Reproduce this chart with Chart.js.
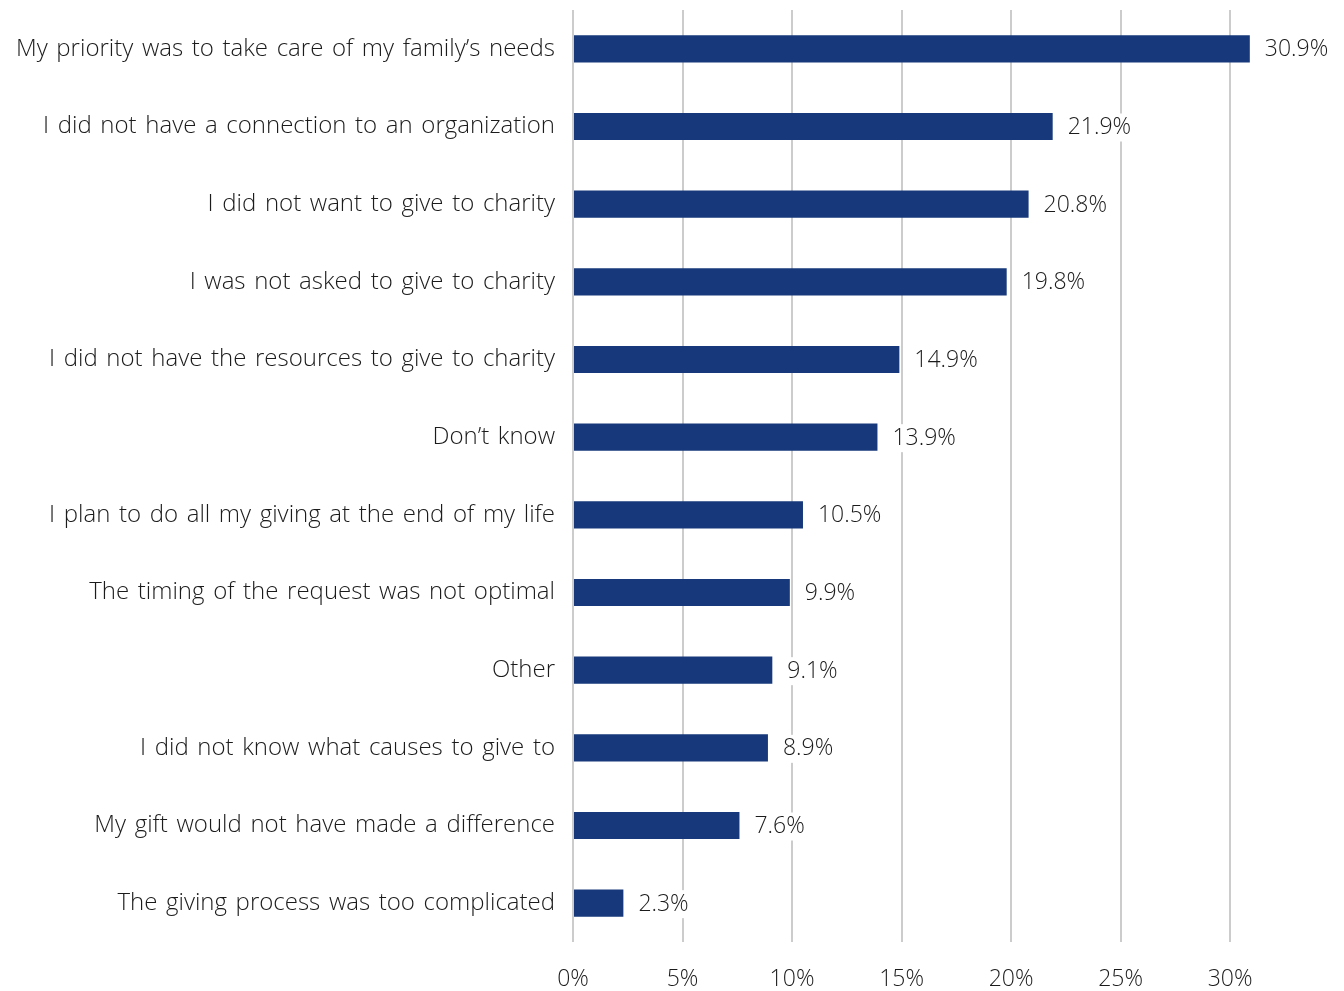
<!DOCTYPE html>
<html>
<head>
<meta charset="utf-8">
<script src="https://cdn.jsdelivr.net/npm/chart.js@4"></script>
<style>
  html, body { margin: 0; padding: 0; background: #ffffff; }
  #wrap { width: 1344px; height: 991px; position: relative; }
</style>
</head>
<body>
<div id="wrap"><canvas id="c"></canvas></div>
<script>
const categories = [
  "My priority was to take care of my family\u2019s needs",
  "I did not have a connection to an organization",
  "I did not want to give to charity",
  "I was not asked to give to charity",
  "I did not have the resources to give to charity",
  "Don\u2019t know",
  "I plan to do all my giving at the end of my life",
  "The timing of the request was not optimal",
  "Other",
  "I did not know what causes to give to",
  "My gift would not have made a difference",
  "The giving process was too complicated"
];
const values = [30.9, 21.9, 20.8, 19.8, 14.9, 13.9, 10.5, 9.9, 9.1, 8.9, 7.6, 2.3];
const tickValues = [0, 5, 10, 15, 20, 25, 30];

const FONT = "'Open Sans', 'Noto Sans', sans-serif";
const TEXT = "#1b1b1b";

const wordSpacingPlugin = {
  id: 'wordSpacing',
  beforeDraw(chart) {
    if ('wordSpacing' in chart.ctx) chart.ctx.wordSpacing = '2.4px';
  }
};

const valueLabels = {
  id: 'valueLabels',
  afterDatasetsDraw(chart) {
    const ctx = chart.ctx;
    const meta = chart.getDatasetMeta(0);
    ctx.save();
    ctx.font = "300 23px " + FONT;
    ctx.textAlign = 'left';
    ctx.textBaseline = 'middle';
    meta.data.forEach((el, i) => {
      const txt = values[i].toFixed(1) + '%';
      const w = ctx.measureText(txt).width;
      const x = el.x + 15;
      const y = el.y + 1;
      ctx.fillStyle = '#ffffff';
      ctx.fillRect(x - 3, y - 14, w + 6, 28);
      ctx.fillStyle = TEXT;
      ctx.fillText(txt, x, y);
    });
    ctx.restore();
  }
};

new Chart(document.getElementById('c'), {
  type: 'bar',
  data: {
    labels: categories,
    datasets: [{
      data: values,
      backgroundColor: '#17387b',
      borderWidth: 0,
      barPercentage: 0.35,
      categoryPercentage: 1.0
    }]
  },
  options: {
    indexAxis: 'y',
    responsive: true,
    maintainAspectRatio: false,
    animation: false,
    layout: { padding: { top: 10, right: 92, bottom: 0, left: 0 } },
    plugins: { legend: { display: false }, tooltip: { enabled: false } },
    scales: {
      x: {
        min: 0,
        max: 31,
        afterBuildTicks(scale) {
          scale.ticks = tickValues.map(v => ({ value: v }));
        },
        afterFit(scale) { scale.height = 49; scale.paddingLeft = 0; scale.paddingRight = 0; },
        grid: { color: '#cccccc', lineWidth: 2, drawTicks: false },
        border: { display: false },
        ticks: {
          padding: 24,
          color: TEXT,
          font: { family: FONT, size: 23, weight: '300' },
          callback: (v) => v + '%'
        }
      },
      y: {
        afterFit(scale) { scale.width = 573; scale.paddingTop = 0; scale.paddingBottom = 0; },
        grid: { display: false, drawTicks: false },
        border: { display: false },
        ticks: {
          padding: 18,
          color: TEXT,
          font: { family: FONT, size: 24, weight: '300' }
        }
      }
    }
  },
  plugins: [wordSpacingPlugin, valueLabels]
});
</script>
</body>
</html>
